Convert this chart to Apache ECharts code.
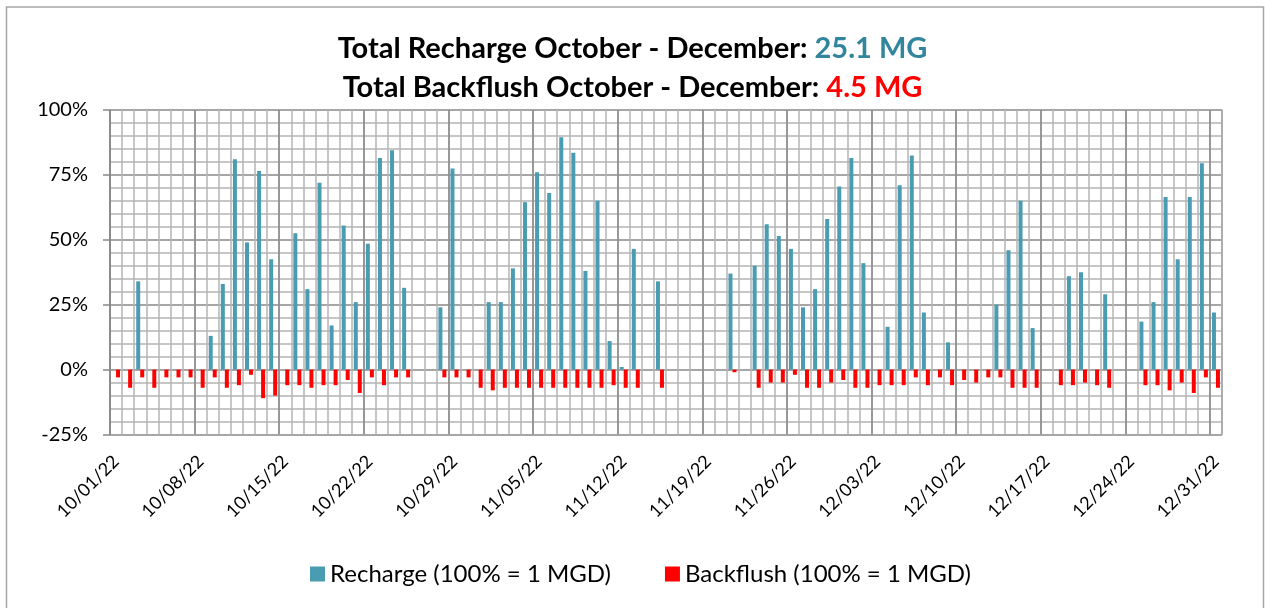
<!DOCTYPE html>
<html>
<head>
<meta charset="utf-8">
<script src="https://cdn.jsdelivr.net/npm/echarts@6/dist/echarts.min.js"></script>
<style>
html,body{margin:0;padding:0;background:#fff;}
#chart{width:1265px;height:608px;}
</style>
</head>
<body>
<div id="chart"></div>
<script>
const dates = [
'10/01/22','10/02/22','10/03/22','10/04/22','10/05/22','10/06/22','10/07/22','10/08/22','10/09/22','10/10/22',
'10/11/22','10/12/22','10/13/22','10/14/22','10/15/22','10/16/22','10/17/22','10/18/22','10/19/22','10/20/22',
'10/21/22','10/22/22','10/23/22','10/24/22','10/25/22','10/26/22','10/27/22','10/28/22','10/29/22','10/30/22',
'10/31/22','11/01/22','11/02/22','11/03/22','11/04/22','11/05/22','11/06/22','11/07/22','11/08/22','11/09/22',
'11/10/22','11/11/22','11/12/22','11/13/22','11/14/22','11/15/22','11/16/22','11/17/22','11/18/22','11/19/22',
'11/20/22','11/21/22','11/22/22','11/23/22','11/24/22','11/25/22','11/26/22','11/27/22','11/28/22','11/29/22',
'11/30/22','12/01/22','12/02/22','12/03/22','12/04/22','12/05/22','12/06/22','12/07/22','12/08/22','12/09/22',
'12/10/22','12/11/22','12/12/22','12/13/22','12/14/22','12/15/22','12/16/22','12/17/22','12/18/22','12/19/22',
'12/20/22','12/21/22','12/22/22','12/23/22','12/24/22','12/25/22','12/26/22','12/27/22','12/28/22','12/29/22',
'12/30/22','12/31/22'
];

// Recharge, percent of 1 MGD
const recharge = [
0,0,34,0,0,0,0,0,13,33,
81,49,76.5,42.5,0,52.5,31,72,17,55.5,
26,48.5,81.5,84.5,31.5,0,0,24,77.5,0,
0,26,26,39,64.5,76,68,89.5,83.5,38,
65,11,1,46.5,0,34,0,0,0,0,
0,37,0,40,56,51.5,46.5,24,31,58,
70.5,81.5,41,0,16.5,71,82.5,22,0,10.5,
0,0,0,25,46,65,16,0,0,36,
37.5,0,29,0,0,18.5,26,66.5,42.5,66.5,
79.5,22
];

// Backflush, percent of 1 MGD (negative)
const backflush = [
-3,-7,-3,-7,-3,-3,-3,-7,-3,-7,
-6,-2,-11,-10,-6,-6,-7,-6,-6,-4,
-9,-3,-6,-3,-3,0,0,-3,-3,-3,
-7,-8,-7,-7,-7,-7,-7,-7,-7,-7,
-7,-6,-7,-7,0,-7,0,0,0,0,
0,-1,0,-7,-5,-5,-2,-7,-7,-5,
-4,-7,-7,-6,-6,-6,-3,-6,-3,-6,
-4,-5,-3,-3,-7,-7,-7,0,-6,-6,
-5,-6,-7,0,0,-6,-6,-8,-5,-9,
-3,-7
];

const seriesNames = ['Recharge (100% = 1 MGD)', 'Backflush (100% = 1 MGD)'];
const titleLine1 = 'Total Recharge October - December: ';
const titleValue1 = '25.1 MG';
const titleLine2 = 'Total Backflush October - December: ';
const titleValue2 = '4.5 MG';

const FONT = 'Lato';
const MINOR = '#b4b4b4';
const MAJOR = '#888888';
const chart = echarts.init(document.getElementById('chart'), null, {renderer: 'canvas'});

chart.setOption({
  animation: false,
  backgroundColor: '#fff',
  graphic: [{
    type: 'rect',
    shape: {x: 6.5, y: 7, width: 1257, height: 620},
    style: {fill: 'none', stroke: '#a6a6a6', lineWidth: 1.5},
    silent: true, z: -10
  }, {
    type: 'line',
    shape: {x1: 1222, y1: 109.5, x2: 1222, y2: 434.5},
    style: {stroke: MINOR, lineWidth: 1.5},
    silent: true, z: 1
  }],
  title: {
    left: 'center',
    top: 24,
    text: '{a|' + titleLine1 + '}{b|' + titleValue1 + '}\n{a|' + titleLine2 + '}{c|' + titleValue2 + '}',
    textStyle: {
      rich: {
        a: {fontFamily: FONT, fontSize: 29, fontWeight: 'bold', color: '#000', lineHeight: 39},
        b: {fontFamily: FONT, fontSize: 29, fontWeight: 'bold', color: '#31859C', lineHeight: 39},
        c: {fontFamily: FONT, fontSize: 29, fontWeight: 'bold', color: '#FF0000', lineHeight: 39}
      }
    }
  },
  legend: {
    data: seriesNames,
    left: 305,
    top: 557,
    icon: 'rect',
    itemWidth: 15,
    itemHeight: 15,
    itemGap: 54,
    textStyle: {fontFamily: FONT, fontSize: 24, color: '#000'}
  },
  grid: {left: 110, right: 43, top: 110, bottom: 173.5, containLabel: false},
  xAxis: [{
    type: 'category',
    data: dates,
    boundaryGap: true,
    axisLine: {show: false},
    axisTick: {show: false},
    axisLabel: {
      interval: 6, rotate: 45, margin: 24,
      fontFamily: FONT, fontSize: 18, color: '#000'
    },
    splitLine: {show: true, interval: 0, lineStyle: {color: MINOR, width: 1.5}}
  }, {
    type: 'category',
    data: dates,
    boundaryGap: true,
    position: 'bottom',
    axisLine: {show: false},
    axisTick: {show: false},
    axisLabel: {show: false},
    splitLine: {show: true, interval: 6, lineStyle: {color: MAJOR, width: 1.5}}
  }],
  yAxis: {
    type: 'value',
    min: -25, max: 100, interval: 25,
    axisLine: {show: true, lineStyle: {color: MAJOR, width: 1.5}},
    axisTick: {show: true, length: 7, lineStyle: {color: MAJOR, width: 1.5}},
    axisLabel: {formatter: '{value}%', margin: 22, fontFamily: FONT, fontSize: 20, color: '#000'},
    splitLine: {show: true, lineStyle: {color: MAJOR, width: 1.5}},
    minorTick: {show: false, splitNumber: 5},
    minorSplitLine: {show: true, lineStyle: {color: MINOR, width: 1.5}}
  },
  series: [{
    name: seriesNames[0],
    type: 'bar',
    data: recharge,
    barWidth: 4,
    barGap: '0%',
    itemStyle: {color: '#4A9CB2'}
  }, {
    name: seriesNames[1],
    type: 'bar',
    data: backflush,
    barWidth: 4,
    barGap: '0%',
    itemStyle: {color: '#FF0000'}
  }]
});
</script>
</body>
</html>
